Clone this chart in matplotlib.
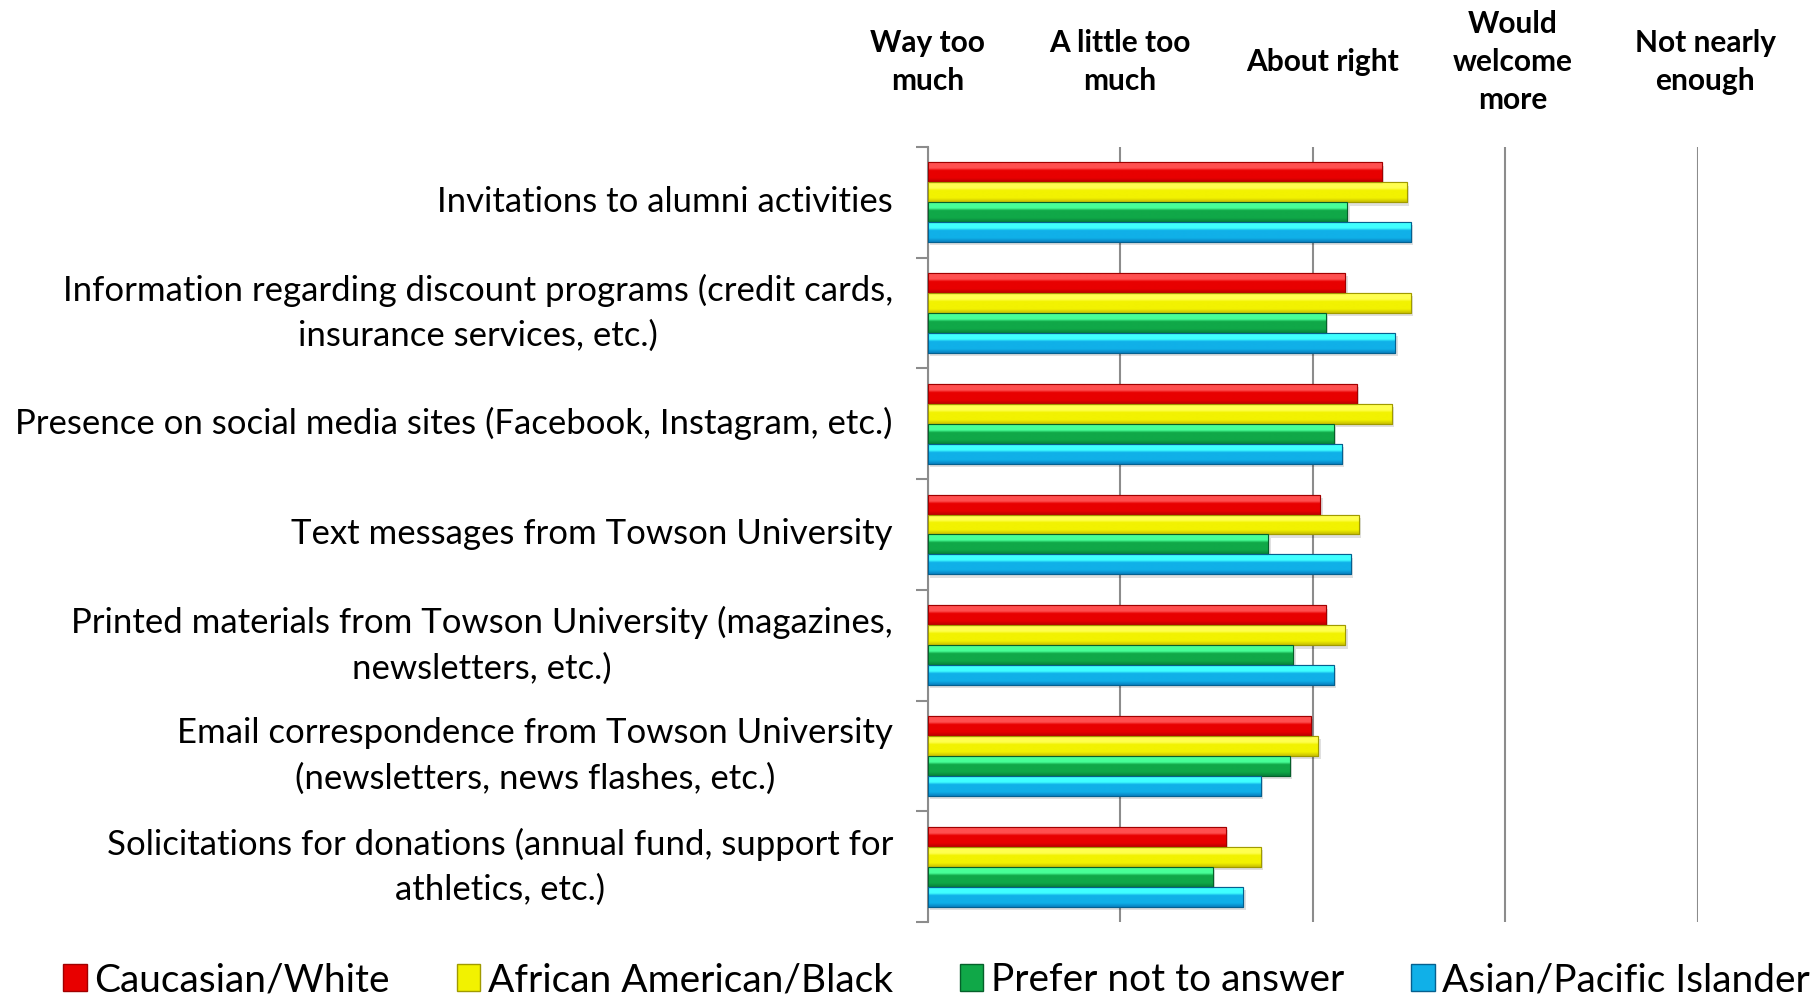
import matplotlib
matplotlib.use("Agg")
import matplotlib.pyplot as plt
import numpy as np
from matplotlib.patches import Rectangle
from matplotlib.colors import LinearSegmentedColormap
from matplotlib.transforms import blended_transform_factory

plt.rcParams['font.family'] = ['Lato', 'DejaVu Sans']

categories = [
    "Invitations to alumni activities",
    "Information regarding discount programs (credit cards,\ninsurance services, etc.)",
    "Presence on social media sites (Facebook, Instagram, etc.)",
    "Text messages from Towson University",
    "Printed materials from Towson University (magazines,\nnewsletters, etc.)",
    "Email correspondence from Towson University\n(newsletters, news flashes, etc.)",
    "Solicitations for donations (annual fund, support for\nathletics, etc.)",
]
series_names = ["Caucasian/White", "African American/Black", "Prefer not to answer", "Asian/Pacific Islander"]
caucasian = [3.36, 3.17, 3.23, 3.04, 3.07, 2.99, 2.55]
african = [3.49, 3.51, 3.41, 3.24, 3.17, 3.03, 2.73]
prefer_not = [3.18, 3.07, 3.11, 2.77, 2.90, 2.88, 2.48]
asian = [3.51, 3.43, 3.15, 3.20, 3.11, 2.73, 2.64]
scale_labels = ["Way too\nmuch", "A little too\nmuch", "About right", "Would\nwelcome\nmore", "Not nearly\nenough"]
scale_values = [1, 2, 3, 4, 5]

series = [caucasian, african, prefer_not, asian]
# (light top, main, dark bottom)
palettes = [
    ("#ff5050", "#e80000", "#b80000"),
    ("#ffff50", "#f2f200", "#c8c000"),
    ("#48ff98", "#10a848", "#07803a"),
    ("#40ffff", "#10b0e8", "#0880c0"),
]
edges = ["#a00000", "#a09a00", "#05602a", "#05608f"]

fig = plt.figure(figsize=(18.19, 9.99), dpi=100)
ax = fig.add_axes([0.510, 0.077, 0.4233, 0.776])
ax.set_xlim(1, 5)
n = len(categories)
ax.set_ylim(n, 0)

bar_h = 0.18
group_off = [-0.27, -0.09, 0.09, 0.27]

for si, vals in enumerate(series):
    light, main, dark = palettes[si]
    cmap = LinearSegmentedColormap.from_list(
        "c%d" % si, [(0.0, light), (0.3, light), (0.42, main), (0.8, main), (1.0, dark)])
    grad = np.linspace(0, 1, 64).reshape(-1, 1)
    bars = ax.barh(np.arange(n) + 0.5 + group_off[si], np.array(vals) - 1, left=1,
                   height=bar_h, color=main, edgecolor=edges[si], linewidth=0.8, zorder=3)
    for b in bars:
        x0, y0 = b.get_x(), b.get_y()
        w, h = b.get_width(), b.get_height()
        sh = Rectangle((x0 + 0.012, y0 + 0.03), w, h, facecolor="#000000", alpha=0.12,
                       edgecolor="none", zorder=2)
        ax.add_patch(sh)
        im = ax.imshow(grad, cmap=cmap, aspect="auto", extent=(x0, x0 + w, y0 + h, y0),
                       zorder=3.5, interpolation="bilinear")
        im.set_clip_path(b)
        ax.add_patch(Rectangle((x0, y0), w, h, facecolor="none", edgecolor=edges[si],
                               linewidth=0.8, zorder=4))

ax.set_xticks(scale_values)
ax.xaxis.grid(True, color="#8c8c8c", linewidth=1.5, zorder=0)
ax.tick_params(axis="x", length=0, labelbottom=False)
ax.set_yticks(np.arange(n + 1))
ax.set_yticklabels([])
ax.tick_params(axis="y", which="major", length=9, color="#8c8c8c", width=1.5, direction="out")
ax.set_yticks(np.arange(n) + 0.5, minor=True)
ax.set_yticklabels(categories, minor=True, fontsize=25, linespacing=1.5)
ax.tick_params(axis="y", which="minor", length=0, pad=25)
for lbl in ax.get_yticklabels(minor=True):
    lbl.set_horizontalalignment("right")
    lbl.set_verticalalignment("center")
    lbl.set_multialignment("center")
for s in ["top", "right", "bottom"]:
    ax.spines[s].set_visible(False)
ax.spines["left"].set_color("#8c8c8c")
ax.spines["left"].set_linewidth(1.5)
ax.set_axisbelow(True)

tr = blended_transform_factory(ax.transData, fig.transFigure)
label_shift = [0.0, 0.0, 0.05, 0.04, 0.04]
for v, lab, dx in zip(scale_values, scale_labels, label_shift):
    ax.text(v + dx, 0.938, lab, transform=tr, ha="center", va="center", fontsize=21.5,
            fontweight="bold", linespacing=1.42)

handles = [Rectangle((0, 0), 1, 1, facecolor=palettes[i][1], edgecolor=edges[i], linewidth=1)
           for i in range(4)]
fig.legend(handles, series_names, loc="center", bbox_to_anchor=(0.515, 0.019), ncol=4,
           frameon=False, fontsize=28, handlelength=0.6, handleheight=0.7,
           handletextpad=0.2, columnspacing=1.72)

fig.savefig("out.png", dpi=100)
